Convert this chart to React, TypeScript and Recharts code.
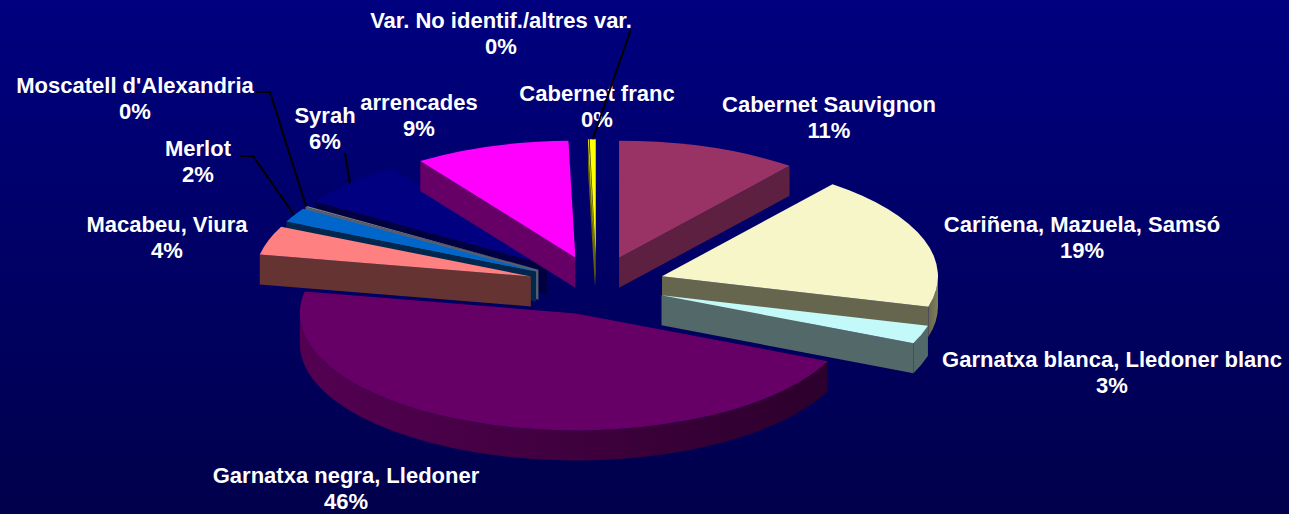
import { Pie, PieChart } from "recharts";

const varieties = [
  "Cabernet Sauvignon",
  "Cariñena, Mazuela, Samsó",
  "Garnatxa blanca, Lledoner blanc",
  "Garnatxa negra, Lledoner",
  "Macabeu, Viura",
  "Merlot",
  "Moscatell d'Alexandria",
  "Syrah",
  "arrencades",
  "Cabernet franc",
  "Var. No identif./altres var.",
];
const shares = [10.6, 18.6, 2.5, 46.3, 4, 2, 0.15, 6.35, 9.1, 0.05, 0.35];

const topColors = ["#993366", "#F6F6C8", "#C4F9F9", "#660066", "#FF8080", "#0066CC", "#808080", "#000080", "#FF00FF", "#FFFF00", "#FFFF00"];
const wallColors = ["#5E2040", "#66664F", "#536868", "#3C003C", "#663333", "#00284F", "#555F6F", "#000040", "#660066", "#666600", "#666600"];
const arcColors = [
  ["#5E2040", "#5E2040"],
  ["#80805C", "#66664F"],
  ["#536868", "#536868"],
  ["#540052", "#2C002C"],
];

// back to front
const drawOrder = [0, 7, 8, 10, 9, 6, 5, 4, 1, 2, 3];

// centre x, first baseline y of each label
const labelSpots = [
  [829, 112],
  [1082, 232],
  [1112, 367],
  [346, 483],
  [167, 232],
  [198, 156],
  [135, 93],
  [325, 123],
  [419, 110],
  [597, 101],
  [501, 28],
];
const leaderBends: Record<number, number[][]> = {
  5: [[240, 156], [253, 156]],
  6: [[256, 92], [270, 92]],
  7: [[345, 153]],
  10: [[631, 29]],
};

const tableData = varieties.map((name, i) => ({ name, value: shares[i] }));

const SQUASH = 117 / 276;
const EXPLODE = 0.25;
const DEPTH = 30;
const rad = (d: number) => (d * Math.PI) / 180;

function sliceGeometry(cx: number, cy: number, r: number, midAngle: number) {
  const ex = cx + EXPLODE * r * Math.cos(rad(midAngle));
  const ey = cy - EXPLODE * r * SQUASH * Math.sin(rad(midAngle));
  const at = (deg: number, dy = 0) => [ex + r * Math.cos(rad(deg)), ey - r * SQUASH * Math.sin(rad(deg)) + dy];
  return { ex, ey, at };
}

function Slice3D(props: any) {
  const { cx, cy, outerRadius: r, startAngle, endAngle, index } = props;
  const { ex, ey, at } = sliceGeometry(cx, cy, r, (startAngle + endAngle) / 2);
  const a = 90 - startAngle;
  const b = 90 - endAngle;
  const [sx, sy] = at(startAngle);
  const [tx, ty] = at(endAngle);
  const rx = r;
  const ry = r * SQUASH;
  const large = Math.abs(startAngle - endAngle) > 180 ? 1 : 0;

  const arcFrom = Math.max(a, 90);
  const arcTo = Math.min(b, 270);
  let arcWall = "";
  if (arcTo > arcFrom) {
    const [x1, y1] = at(90 - arcFrom);
    const [x2, y2] = at(90 - arcTo);
    arcWall = `M${x1},${y1} A${rx},${ry} 0 0 1 ${x2},${y2} L${x2},${y2 + DEPTH} A${rx},${ry} 0 0 0 ${x1},${y1 + DEPTH} Z`;
  }
  const arcFill = arcColors[index];
  const gradId = `arc-wall-${index}`;

  return (
    <g>
      {a > 180 && (
        <path d={`M${ex},${ey} L${sx},${sy} L${sx},${sy + DEPTH} L${ex},${ey + DEPTH} Z`} fill={wallColors[index]} />
      )}
      {b < 180 && (
        <path d={`M${ex},${ey} L${tx},${ty} L${tx},${ty + DEPTH} L${ex},${ey + DEPTH} Z`} fill={wallColors[index]} />
      )}
      {arcWall && arcFill && (
        <>
          <defs>
            <linearGradient id={gradId} x1="0" x2="1" y1="0" y2="0">
              <stop offset="0" stopColor={index === 3 ? arcFill[0] : arcFill[1]} />
              <stop offset="1" stopColor={index === 3 ? arcFill[1] : arcFill[0]} />
            </linearGradient>
          </defs>
          <path d={arcWall} fill={`url(#${gradId})`} />
        </>
      )}
      <path d={`M${ex},${ey} L${sx},${sy} A${rx},${ry} 0 ${large} 1 ${tx},${ty} Z`} fill={topColors[index]} />
    </g>
  );
}

function SliceLabel(props: any) {
  const { cx, cy, outerRadius: r, midAngle, index } = props;
  const [x, y] = labelSpots[index];
  const bends = leaderBends[index];
  let leader = null;
  if (bends) {
    const end = sliceGeometry(cx, cy, r, midAngle).at(midAngle);
    const pts = [...bends, end].map((p) => p.join(",")).join(" ");
    leader = <polyline points={pts} fill="none" stroke="#000000" strokeWidth={2} />;
  }
  const textStyle = { fontFamily: "'Liberation Sans', Arial, sans-serif", fontWeight: 700, fontSize: 22 };
  return (
    <g>
      {leader}
      <text x={x} y={y} textAnchor="middle" fill="#FFFFFF" style={textStyle}>
        {varieties[index]}
      </text>
      <text x={x} y={y + 26} textAnchor="middle" fill="#FFFFFF" style={textStyle}>
        {Math.round(shares[index])}%
      </text>
    </g>
  );
}

const Nothing = () => <g />;

export default function App() {
  return (
    <div
      style={{
        position: "absolute",
        left: 0,
        top: 0,
        width: 1289,
        height: 514,
        overflow: "hidden",
        background: "linear-gradient(180deg, #000080 0%, #00004C 100%)",
      }}
    >
      <PieChart width={1289} height={514} margin={{ top: 0, right: 0, bottom: 0, left: 0 }}>
        {drawOrder.map((slot) => (
          <Pie
            key={slot}
            data={tableData}
            dataKey="value"
            nameKey="name"
            cx={596.5}
            cy={285.5}
            innerRadius={0}
            outerRadius={276}
            startAngle={90}
            endAngle={-270}
            stroke="none"
            isAnimationActive={false}
            labelLine={false}
            shape={(p: any) => (p.index === slot ? <Slice3D {...p} /> : <Nothing />)}
          />
        ))}
        <Pie
          data={tableData}
          dataKey="value"
          nameKey="name"
          cx={596.5}
          cy={285.5}
          innerRadius={0}
          outerRadius={276}
          startAngle={90}
          endAngle={-270}
          stroke="none"
          isAnimationActive={false}
          labelLine={false}
          label={SliceLabel}
          shape={() => <Nothing />}
        />
      </PieChart>
    </div>
  );
}
